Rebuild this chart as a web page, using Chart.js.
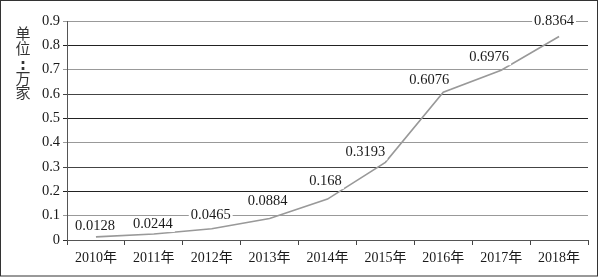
<!DOCTYPE html>
<html>
<head>
<meta charset="utf-8">
<script src="https://cdn.jsdelivr.net/npm/chart.js@4"></script>
<style>
  html, body { margin: 0; padding: 0; background: #fff; }
  #wrap { width: 598px; height: 277px; }
</style>
</head>
<body>
<div id="wrap"><canvas id="chart" width="598" height="277"></canvas></div>
<script>
const years = ['2010年', '2011年', '2012年', '2013年', '2014年', '2015年', '2016年', '2017年', '2018年'];
const counts = [0.0128, 0.0244, 0.0465, 0.0884, 0.168, 0.3193, 0.6076, 0.6976, 0.8364];
const yTicks = [0, 0.1, 0.2, 0.3, 0.4, 0.5, 0.6, 0.7, 0.8, 0.9];
const yTitle = ['单', '位', ':', '万', '家'];

const FONT = '"Liberation Serif", "DejaVu Serif", "Noto Sans CJK SC", serif';
const gridColors = ['#333', '#999', '#222', '#444', '#999', '#222', '#444', '#999', '#222', '#999'];

// label nudges relative to each point (dx, dy)
const labelShift = [[-1, -11], [-1, -10], [-1, -13], [-2, -17], [-2, -18], [-20, -10], [-14, -12], [-12, -13], [-5, -15]];
// vertical placement of the stacked title characters
const titleRows = [33.5, 48.5, 66, 78, 92];

const extras = {
  id: 'extras',
  beforeDraw(chart) {
    const ctx = chart.ctx;
    ctx.save();
    ctx.fillStyle = '#fff';
    ctx.fillRect(0, 0, chart.width, chart.height);
    ctx.restore();
  },
  afterDatasetsDraw(chart) {
    const ctx = chart.ctx;
    const meta = chart.getDatasetMeta(0);
    ctx.save();
    ctx.font = '14.5px ' + FONT;
    ctx.textAlign = 'center';
    ctx.textBaseline = 'middle';
    meta.data.forEach((pt, i) => {
      const txt = String(counts[i]);
      const x = pt.x + labelShift[i][0];
      const y = pt.y + labelShift[i][1];
      const w = ctx.measureText(txt).width;
      ctx.fillStyle = '#fff';
      ctx.fillRect(x - w / 2 - 2, y - 8, w + 4, 16);
      ctx.fillStyle = '#1a1a1a';
      ctx.fillText(txt, x, y);
    });

    // stacked y-axis title
    ctx.fillStyle = '#333';
    yTitle.forEach((c, i) => {
      ctx.font = c === ':' ? 'bold 15px "DejaVu Sans", sans-serif' : '15px "Noto Sans CJK SC", sans-serif';
      ctx.fillText(c, 23, titleRows[i]);
    });

    // outer frame
    ctx.strokeStyle = '#333';
    ctx.lineWidth = 1;
    ctx.strokeRect(0.5, 0.5, chart.width - 1, chart.height - 1.5);
    ctx.restore();
  }
};

new Chart(document.getElementById('chart'), {
  type: 'line',
  data: {
    labels: years,
    datasets: [{
      data: counts,
      borderColor: '#999',
      borderWidth: 1.6,
      pointRadius: 0,
      tension: 0,
      fill: false
    }]
  },
  options: {
    responsive: false,
    animation: false,
    devicePixelRatio: 1,
    layout: { padding: { left: 0, right: 10, top: 21, bottom: 0 } },
    plugins: {
      legend: { display: false },
      tooltip: { enabled: false }
    },
    scales: {
      x: {
        offset: true,
        grid: {
          offset: true,
          drawOnChartArea: false,
          color: '#444',
          tickLength: 5
        },
        border: { color: '#555', width: 1 },
        ticks: {
          color: '#1a1a1a',
          padding: 5,
          maxRotation: 0,
          autoSkip: false,
          font: { family: FONT, size: 14 }
        },
        afterFit(scale) { scale.height = 37; }
      },
      y: {
        min: 0,
        max: 0.9,
        afterBuildTicks(scale) {
          scale.ticks = yTicks.map(v => ({ value: v }));
        },
        grid: {
          color: ctx => gridColors[ctx.index] || '#444',
          tickLength: 4,
          lineWidth: 1
        },
        border: { color: '#555', width: 1 },
        ticks: {
          color: '#1a1a1a',
          padding: 3,
          font: { family: FONT, size: 14.5 },
          callback: v => String(v)
        },
        afterFit(scale) { scale.width = 67; }
      }
    }
  },
  plugins: [extras]
});
</script>
</body>
</html>
